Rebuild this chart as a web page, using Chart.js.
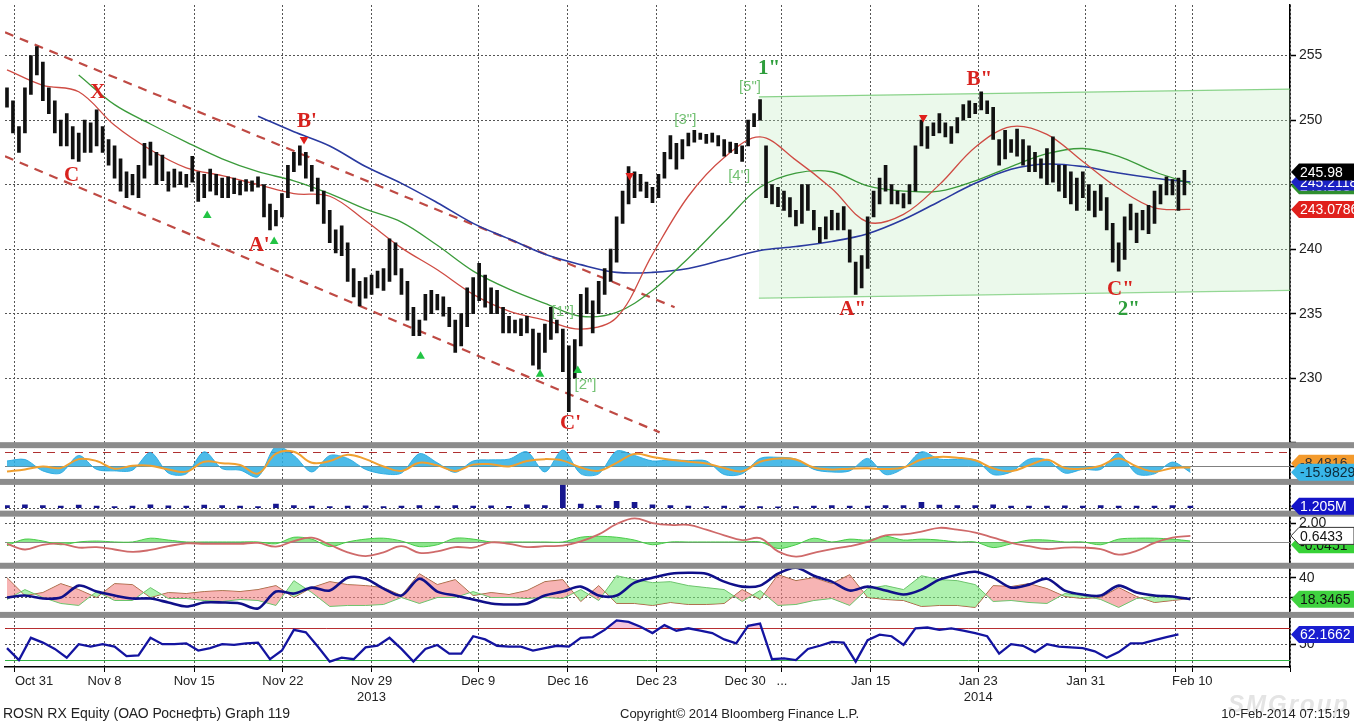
<!DOCTYPE html>
<html>
<head>
<meta charset="utf-8">
<script src="https://cdn.jsdelivr.net/npm/chart.js@4/dist/chart.umd.min.js"></script>
<style>
  html, body { margin: 0; padding: 0; background: #fff; }
  #wrap { position: relative; width: 1354px; height: 723px; overflow: hidden; background: #fff; }
  #chart { position: absolute; left: 0; top: 0; }
  .foot { position: absolute; top: 706px; font: 13px 'Liberation Sans', sans-serif; color: #222; white-space: nowrap; }
  .mark { position: absolute; left: 1228px; top: 690px; font: italic bold 24px 'Liberation Sans', sans-serif; color: #e4e4e4; letter-spacing: 2px; }
</style>
</head>
<body>
<div id="wrap">
  <canvas id="chart" width="1354" height="723"></canvas>
  <div class="mark">SMGroup</div>
  <div class="foot" style="left:3px; font-size:14px; top:705px">ROSN RX Equity (ОАО Роснефть) Graph 119</div>
  <div class="foot" style="left:620px">Copyright© 2014 Bloomberg Finance L.P.</div>
  <div class="foot" style="right:4px">10-Feb-2014 07:15:19</div>
</div>
<script>
// x axis: one unit = one price bar
const X_MIN = -0.333, X_MAX = 214.667;
const tickPos = [1.33, 16.33, 31.33, 46.17, 61, 78.83, 93.83, 108.67, 123.5, 129.67, 144.5, 162.5, 180.5, 195.5, 198.33, X_MAX];
const tickLabels = ['Oct 31', 'Nov 8', 'Nov 15', 'Nov 22', ['Nov 29', '2013'], 'Dec 9', 'Dec 16', 'Dec 23', 'Dec 30', '...', 'Jan 15', ['Jan 23', '2014'], 'Jan 31', '', 'Feb 10', ''];
const priceTicks = [225, 227.5, 230, 232.5, 235, 237.5, 240, 242.5, 245, 247.5, 250, 252.5, 255, 257.5];

const priceLow = [
  251.0,249,247.5,249,252,253.5,251.5,250.5,249,248,
  248,247,246.8,247.5,247.5,248,247.5,246.5,245.5,244.5,
  244,244.2,244,245.5,246.5,245,245.3,244.5,244.8,245,
  244.8,245.2,243.7,244,244.5,244.2,244,244,244.3,244.2,
  244.5,244.5,244.8,242.5,241.5,241.8,242.5,244,246,246.5,
  245.5,244.5,243.5,242,240.5,239.7,239.5,237.5,236.3,235.6,
  236.2,236.5,237,236.8,237.5,238,236.5,234.5,233.3,233.3,
  234.5,235,235.3,234.8,234,232,232.5,234,235,236,
  235.5,235,235,233.5,233.5,233.5,233.3,233.5,231,230.7,
  232,233,233.5,230.5,227.4,230,232.5,235,233.5,235,
  236.5,237.5,239,242,243.5,244,244.5,244,243.6,244,
  245.5,247,246.2,247,248,248.3,248.5,248.2,248.3,248,
  247.2,247.5,247.4,246.8,248,249.5,250,244,243.5,243.3,
  243,242.5,241.8,242,243,241.5,240.5,240.8,241.5,241.5,
  241.5,239,236.5,237,238.5,242.5,243.5,244.5,243.5,243.5,
  243.2,243.5,244.5,248,247.8,248.8,249,248.7,248.2,249,
  250,250.2,250.5,250.8,250.5,248.5,246.5,247,247.5,247.2,
  246.5,246,246,245.5,245,245.2,244.5,244,243.5,243,
  244,243,242.5,243,241.5,239,238.3,239.2,241.5,240.5,
  241.5,241.2,242,243.5,244.2,244.2,243,244.2
];
const priceHigh = [
  252.5,251.5,249.5,252.5,255,255.7,254.5,252.5,251.5,250,
  250.5,249.5,249,250,249.8,250.8,249.5,248.5,248,247,
  246,245.8,246.5,248.2,248.3,247.5,247.3,246,246.2,246,
  245.8,247.2,246,245.8,246.2,245.8,245.5,245.6,245.5,245.3,
  245.4,245.3,245.6,245,243.5,243,244.3,246.5,247.5,248,
  247.5,246.5,245.5,244.5,243,241.5,241.8,240.5,238.5,237.5,
  237.8,238,238.3,238.5,240.8,240.5,238.5,237.5,235.5,234.5,
  236.5,236.8,236.5,236.3,235.5,234.5,235,237,237.8,238.9,
  238,237,236.8,235.5,234.8,234.5,234.6,234.8,233.8,233.5,
  234.2,235.5,234.5,233.8,232.5,233,236.5,237,236,237.5,
  238.5,240,242.5,244.5,246.4,246,245.8,245.2,244.8,245.8,
  247.5,248.8,248.2,248.5,249,249.2,249,248.9,249,248.8,
  248.5,248.3,248.2,248,250,250.5,251.6,248,245,244.8,
  244.5,244,243,245,245,243,241.7,242.5,243,242.8,
  243.3,241.5,239,239.5,242.5,244.5,245.5,246.5,245,244.5,
  244.3,245,248,250,249.5,249.8,250.5,249.8,249.5,250.2,
  251.2,251.5,251.3,252.2,251.5,251,248.5,249.2,248.5,249.3,
  248.5,248,247.5,247,247.8,248.7,246.5,246.5,246,245.5,
  246,245,244.5,245,244,242,240.5,242.5,243.5,242.8,
  243,243.4,244.5,245,245.6,245.4,245.5,246.1
];

// moving averages, one value every 6 bars
const MA_STEP = 6;
const maRed = [253.9,252.7,252.2,249.6,247.7,246.3,245.7,245.0,244.3,244.1,242.2,240.1,238.4,236.5,235.2,234.5,233.8,234.7,239.6,244.1,247.1,248.7,246.9,244.7,242.1,242.7,245.0,247.9,249.5,248.9,246.8,244.7,243.2,243.08];
const maGreen = [null,null,253.5,251.2,249.7,248.3,247.0,246.0,245.3,244.3,243.1,242.1,240.3,238.3,236.9,235.8,234.8,235.1,236.8,239.3,242.1,244.8,245.9,246.0,244.9,244.5,244.5,245.3,246.4,247.4,247.8,247.2,246.0,245.1];
const maBlue = [null,null,null,null,null,null,null,250.3,249.1,248.0,246.4,245.1,243.6,242.0,240.8,239.6,238.8,238.2,238.2,238.5,239.2,239.9,240.2,240.6,241.2,242.3,243.7,245.1,246.2,246.6,246.4,245.9,245.5,245.2];

// trend channels
const chanTopIdx = [-0.333, 111.7], chanTop = [256.8, 235.5];
const chanLowIdx = [-0.333, 109.2], chanLow = [247.2, 225.8];
const boxIdx = [125.8, X_MAX], boxTop = [251.8, 252.4], boxBottom = [236.2, 236.8];

// signal triangles
const upIdx = [33.5, 44.7, 69.2, 89.2, 95.5], upVal = [242.6, 240.6, 231.7, 230.3, 230.6];
const downIdx = [49.7, 104.2, 153.3], downVal = [248.5, 245.7, 250.2];

// wave labels: text, bar index, price, kind
const waveLabels = [
  ['X', 15.2, 252.15, 'r'], ['C', 10.8, 245.7, 'r'], ["B'", 50.2, 249.85, 'r'], ["A'", 42.2, 240.3, 'r'],
  ["C'", 94.3, 226.5, 'r'], ['A"', 141.5, 235.3, 'r'], ['B"', 162.7, 253.15, 'r'], ['C"', 186.3, 236.9, 'r'],
  ['1"', 127.5, 254.0, 'g'], ['2"', 187.7, 235.3, 'g'],
  ['[5"]', 124.3, 252.6, 's'], ['[3"]', 113.5, 250.0, 's'], ['[4"]', 122.5, 245.7, 's'],
  ['[1"]', 93.0, 235.15, 's'], ['[2"]', 96.8, 229.5, 's']
];

// indicator panels, one value every 3 bars
const IND_STEP = 3;
const oscHist = [15,19,-12,-18,30,-8,-12,-10,38,-18, -20,40,-6,-10,-28,55,30,-15,30,22, -8,-20,-18,35,10,-16,15,18,20,40, -15,45,-20,-20,42,30,15,18,16,15, -22,-20,22,25,20,-8,-15,-12,22,-22, -5,40,20,20,18,-22,-15,20,18,-18, -8,-8,35,-20,-20,12,-16];
const oscLine = [-14,-8,0,-4,20,15,-6,2,2,-8, -14,13,9,4,-19,35,40,10,15,32, 20,0,-12,10,3,-12,5,6,0,15, 20,16,-3,-12,10,34,26,18,13,8, -4,-13,13,22,19,-3,-8,-6,-5,-7, -3,19,26,24,17,-5,-13,3,18,-4, -6,2,22,0,-14,-4,-3];
const volume = [1.5,2,1.5,1.2,1.8,1.3,1,1.2,2,1.4, 1.2,1.8,1.5,1.2,1,2.5,1.5,1.2,1,1.2, 1.4,1,1.2,1.5,1.3,1.5,1.2,1.4,1.1,2, 1.5,14,2.5,1.5,4,3.5,2,1.5,1.2,1, 1.2,1.3,1,0.8,1,1.2,1.5,1.2,1.3,1.6, 1.5,3.5,1.8,1.5,1.5,2,1.2,1.3,1.2,1.4, 1.2,1.5,1.2,1.3,1.2,1.5,1.205];
const macdLine = [-0.2,-0.8,-0.3,-0.2,-0.6,-0.55,-0.8,-1.05,-0.85,-0.45, -0.15,-0.2,-0.2,-0.2,-0.1,-0.5,0.1,0.45,-0.3,-1.1, -1.5,-1.1,-0.45,-1.15,-1.0,-0.55,-0.6,-0.05,-0.2,-0.55, -0.45,-0.4,0.05,0.8,1.9,2.5,2.0,1.8,1.8,1.3, 0.7,0.2,0.4,-1.0,-1.55,-1.15,-0.75,-0.45,0.0,0.7, 0.8,1.1,1.5,1.3,1.0,0.45,-0.1,-0.45,-0.75,-0.6, -0.6,-0.75,-1.35,-0.95,-0.1,0.45,0.64];
const macdHist = [-0.4,0.3,0.1,-0.3,0,0.1,0,0,0.4,0.2, 0,0,0,0,0,-0.2,0.5,0.3,-0.5,0, 0.3,0.4,0.1,-0.5,-0.3,0.4,0.3,0,0,0, 0,0,0.5,0.6,0.5,0.2,-0.3,0,0,0, 0,0,0,-0.7,-0.3,0.4,0,0.3,0.2,0.6, 0.2,0.3,0.2,0,0,-0.6,-0.2,0.2,0.2,0, 0,-0.3,0.3,0.4,0.4,0.3,0.1];
const adx = [20,22,19,20,32,26,22,19,19,15, 11,15,15,14,9,26,24,30,27,40, 39,29,22,39,26,22,18,14,13,14, 22,26,31,22,22,35,40,44,45,44, 36,31,32,44,50,42,36,27,31,27, 23,28,38,43,46,40,30,33,39,27, 23,22,32,25,22,21,18.3];
const diMinus = [40,22,25,34,28,20,34,33,20,25, 24,26,27,26,28,32,20,30,36,33, 32,30,22,44,33,38,22,25,23,27, 36,38,16,32,14,14,12,15,13,13, 14,28,18,43,37,40,34,43,20,18, 17,11,12,12,10,32,31,34,29,21, 19,20,30,21,15,17,19];
const diPlus = [18,28,20,14,12,26,17,17,30,19, 19,17,16,18,17,12,37,25,11,12, 12,13,20,14,20,20,26,20,20,19, 20,19,28,17,42,38,35,36,32,30, 28,16,27,12,13,17,19,12,29,32, 28,42,38,37,33,16,17,15,14,24, 22,18,10,19,21,20,18];

// RSI, one value every 2 bars
const RSI_STEP = 2;
const rsi = [45,30,58,52,44,33,50,47,50,47, 35,36,58,50,50,51,42,45,50,49, 51,52,31,42,68,65,47,28,33,31, 46,48,58,44,28,44,49,38,38,60, 56,48,47,47,42,45,48,47,58,59, 68,80,78,72,64,74,67,70,67,64, 56,51,73,76,31,32,30,44,48,53, 52,28,55,62,60,49,70,71,68,70, 67,64,60,38,50,48,40,50,47,46, 45,41,33,40,51,51,55,59,62.2];

// last-value tags on the right axis: scale, value, text
const lastTags = [
  ['yP', 244.92, '#2f8f2f', '#fff', '245.1034'],
  ['yP', 245.2118, '#1c22c4', '#fff', '245.2118'],
  ['yP', 245.98, '#000', '#fff', '245.98'],
  ['yP', 243.0786, '#e0201c', '#fff', '243.0786'],
  ['yO', 8.4816, '#f39a2c', '#333', '-8.4816'],
  ['yO', -15.9829, '#38b6e8', '#0c2a3a', '-15.9829'],
  ['yV', 1.205, '#1414c8', '#fff', '1.205M'],
  ['yM', -0.3, '#37d237', '#111', '-0.0451'],
  ['yM', 0.6433, '#fff', '#111', '0.6433', '#333'],
  ['yA', 18.3465, '#3fd23f', '#111', '18.3465'],
  ['yR', 62.1662, '#1a1ed0', '#fff', '62.1662']
];

const pts = (arr, step) => arr.map((v, i) => ({ x: i * step, y: v }));
const pairs = (xs, ys) => xs.map((x, i) => ({ x: x, y: ys[i] }));
const FONT = "'Liberation Sans', sans-serif";
Chart.defaults.font.family = FONT;
Chart.defaults.font.size = 13;
Chart.defaults.color = '#222';

const panelIds = ['yP', 'yO', 'yV', 'yM', 'yA', 'yR'];

const panelClip = {
  id: 'panelClip',
  beforeDatasetDraw(chart, args) {
    const s = chart.scales[args.meta.yAxisID];
    const ctx = chart.ctx;
    ctx.save();
    ctx.beginPath();
    ctx.rect(chart.chartArea.left, s.top, chart.chartArea.width, s.bottom - s.top);
    ctx.clip();
  },
  afterDatasetDraw(chart) { chart.ctx.restore(); }
};

const refLines = [
  ['yO', 40, '#b03030', [8, 6], 1],
  ['yO', 0, '#808080', [], 1],
  ['yM', 0, '#8a8a8a', [], 1],
  ['yR', 70, '#b02020', [], 1],
  ['yR', 30, '#30b040', [], 1]
];
const refPlugin = {
  id: 'refLines',
  beforeDatasetsDraw(chart) {
    const ctx = chart.ctx, a = chart.chartArea;
    ctx.save();
    refLines.forEach(([id, v, col, dash, w]) => {
      const y = Math.round(chart.scales[id].getPixelForValue(v)) + 0.5;
      ctx.strokeStyle = col; ctx.lineWidth = w; ctx.setLineDash(dash);
      ctx.beginPath(); ctx.moveTo(a.left, y); ctx.lineTo(a.right, y); ctx.stroke();
    });
    ctx.restore();
  }
};

const annotate = {
  id: 'annotate',
  afterDatasetsDraw(chart) {
    const ctx = chart.ctx, xs = chart.scales.x, ys = chart.scales.yP;
    ctx.save();
    ctx.textAlign = 'center'; ctx.textBaseline = 'middle';
    waveLabels.forEach(([t, i, v, k]) => {
      if (k === 's') { ctx.font = "15px 'Liberation Sans', sans-serif"; ctx.fillStyle = '#74c274'; }
      else { ctx.font = "bold 21px 'Liberation Serif', serif"; ctx.fillStyle = k === 'r' ? '#d8221e' : '#2e9e3c'; }
      ctx.fillText(t, xs.getPixelForValue(i), ys.getPixelForValue(v));
    });
    // separators between panels
    ctx.fillStyle = '#8c8c8c';
    panelIds.slice(0, -1).forEach(id => {
      const b = chart.scales[id].bottom;
      ctx.fillRect(0, b - 3, chart.width, 6);
    });
    ctx.restore();
  }
};

const tagPlugin = {
  id: 'tags',
  afterDraw(chart) {
    const ctx = chart.ctx, x0 = chart.chartArea.right + 1, w = chart.width;
    ctx.save();
    ctx.font = '14px ' + FONT; ctx.textBaseline = 'middle'; ctx.textAlign = 'left';
    lastTags.forEach(([id, v, bg, fg, txt, edge]) => {
      const y = chart.scales[id].getPixelForValue(v);
      ctx.beginPath();
      ctx.moveTo(x0, y); ctx.lineTo(x0 + 8, y - 8.5); ctx.lineTo(w, y - 8.5);
      ctx.lineTo(w, y + 8.5); ctx.lineTo(x0 + 8, y + 8.5); ctx.closePath();
      ctx.fillStyle = bg; ctx.fill();
      if (edge) { ctx.strokeStyle = edge; ctx.lineWidth = 1; ctx.stroke(); }
      ctx.fillStyle = fg; ctx.fillText(txt, x0 + 9, y + 1);
    });
    ctx.restore();
  }
};

const fixW = s => { s.width = 64; s.paddingTop = 0; s.paddingBottom = 0; };
const dashGrid = { color: '#555', lineWidth: 1, tickLength: 6, tickColor: '#000', tickWidth: 1.5 };
function subAxis(weight, min, max, ticks, labels, showGrid) {
  return {
    type: 'linear', position: 'right', stack: 'p', stackWeight: weight, min: min, max: max,
    afterBuildTicks: s => { s.ticks = ticks.map(v => ({ value: v })); },
    afterFit: fixW,
    ticks: { padding: 3, color: '#222', font: { size: 14 }, callback: (v, i) => labels[i] },
    grid: Object.assign({}, dashGrid, { color: showGrid ? '#555' : 'transparent' }),
    border: { color: '#000', width: 1.5, dash: [2, 2] }
  };
}

const datasets = [
  { type: 'line', data: pairs(upIdx, upVal), yAxisID: 'yP', showLine: false, pointStyle: 'triangle', pointRadius: 5, pointBackgroundColor: '#22c444', pointBorderWidth: 0 },
  { type: 'line', data: pairs(downIdx, downVal), yAxisID: 'yP', showLine: false, pointStyle: 'triangle', rotation: 180, pointRadius: 5, pointBackgroundColor: '#e0201c', pointBorderWidth: 0 },
  { type: 'bar', data: priceLow.map((l, i) => ({ x: i, y: [l, priceHigh[i]] })), yAxisID: 'yP', backgroundColor: '#111', grouped: false, barPercentage: 1, categoryPercentage: 1, maxBarThickness: 3 },
  { type: 'line', data: pts(maRed, MA_STEP), yAxisID: 'yP', borderColor: '#cf4c44', borderWidth: 1.3, pointRadius: 0, tension: 0.35 },
  { type: 'line', data: pts(maGreen, MA_STEP), yAxisID: 'yP', borderColor: '#3b9b3b', borderWidth: 1.3, pointRadius: 0, tension: 0.35 },
  { type: 'line', data: pts(maBlue, MA_STEP), yAxisID: 'yP', borderColor: '#2a3aa0', borderWidth: 1.6, pointRadius: 0, tension: 0.35 },
  { type: 'line', data: pairs(chanTopIdx, chanTop), yAxisID: 'yP', borderColor: '#bf4a44', borderWidth: 2.2, borderDash: [9, 7], pointRadius: 0 },
  { type: 'line', data: pairs(chanLowIdx, chanLow), yAxisID: 'yP', borderColor: '#bf4a44', borderWidth: 2.2, borderDash: [9, 7], pointRadius: 0 },
  { type: 'line', data: pairs(boxIdx, boxTop), yAxisID: 'yP', borderColor: 'rgba(110,200,110,0.8)', borderWidth: 1.2, pointRadius: 0, fill: '+1', backgroundColor: 'rgba(190,236,190,0.3)' },
  { type: 'line', data: pairs(boxIdx, boxBottom), yAxisID: 'yP', borderColor: 'rgba(110,200,110,0.8)', borderWidth: 1.2, pointRadius: 0 },

  { type: 'line', data: pts(oscLine, IND_STEP), yAxisID: 'yO', borderColor: '#f0a030', borderWidth: 2, pointRadius: 0, tension: 0.4 },
  { type: 'line', data: pts(oscHist, IND_STEP), yAxisID: 'yO', borderColor: 'rgba(40,170,225,0.9)', borderWidth: 1, pointRadius: 0, tension: 0.3, fill: 'origin', backgroundColor: 'rgba(45,175,228,0.85)' },

  { type: 'bar', data: pts(volume, IND_STEP), yAxisID: 'yV', backgroundColor: '#17178f', grouped: false, barPercentage: 1, categoryPercentage: 1, maxBarThickness: 5 },

  { type: 'line', data: pts(macdLine, IND_STEP), yAxisID: 'yM', borderColor: '#cf6a6a', borderWidth: 1.8, pointRadius: 0, tension: 0.4 },
  { type: 'line', data: pts(macdHist, IND_STEP), yAxisID: 'yM', borderColor: 'rgba(60,200,60,0.9)', borderWidth: 1, pointRadius: 0, tension: 0.3, fill: 'origin', backgroundColor: 'rgba(90,220,90,0.7)' },

  { type: 'line', data: pts(adx, IND_STEP), yAxisID: 'yA', borderColor: '#10108a', borderWidth: 2.6, pointRadius: 0, tension: 0.3 },
  { type: 'line', data: pts(diPlus, IND_STEP), yAxisID: 'yA', borderColor: '#6cc46c', borderWidth: 1, pointRadius: 0, fill: { target: '+1', above: 'rgba(120,232,120,0.6)', below: 'rgba(242,130,130,0.6)' } },
  { type: 'line', data: pts(diMinus, IND_STEP), yAxisID: 'yA', borderColor: '#a8583a', borderWidth: 1, pointRadius: 0 },

  { type: 'line', data: pts(rsi, RSI_STEP), yAxisID: 'yR', borderColor: '#1414a0', borderWidth: 2.3, pointRadius: 0, fill: { target: { value: 70 }, above: 'rgba(240,160,200,0.6)', below: 'rgba(0,0,0,0)' } }
];

new Chart(document.getElementById('chart'), {
  type: 'bar',
  data: { datasets: datasets },
  options: {
    responsive: false, animation: false, events: [],
    layout: { padding: 0 },
    plugins: { legend: { display: false }, tooltip: { enabled: false } },
    scales: {
      x: {
        type: 'linear', position: 'bottom', min: X_MIN, max: X_MAX, offset: false,
        afterBuildTicks: s => { s.ticks = tickPos.map(v => ({ value: v })); },
        afterFit: s => { s.height = 56; s.paddingLeft = 0; s.paddingRight = 0; },
        ticks: { autoSkip: false, maxRotation: 0, align: 'inner', padding: 2, color: '#222', font: { size: 13 }, callback: (v, i) => tickLabels[i] },
        grid: { offset: false, color: '#555', lineWidth: 1, tickLength: 5, tickColor: '#000', tickBorderDash: [] },
        border: { color: '#000', width: 1.5, dash: [2, 2] }
      },
      yP: {
        type: 'linear', position: 'right', stack: 'p', stackWeight: 443.5, min: 224.808, max: 258.923,
        afterBuildTicks: s => { s.ticks = priceTicks.map(v => ({ value: v })); },
        afterFit: fixW,
        ticks: { padding: 3, color: '#222', font: { size: 14 }, callback: v => (v % 5 === 0 && v >= 230 && v <= 255) ? String(v) : '' },
        grid: Object.assign({}, dashGrid, { color: c => (c.tick && c.tick.value % 5 === 0 && c.tick.value >= 230) ? '#555' : 'transparent' }),
        border: { color: '#000', width: 1.5, dash: [2, 2] }
      },
      yO: subAxis(37, -42, 58, [0], [''], false),
      yV: subAxis(32, -3.24, 15.59, [0, 10], ['', '10M'], true),
      yM: subAxis(52.5, -2.526, 3.0, [2], ['2.00'], true),
      yA: subAxis(49.5, 2.5, 52, [20, 40], ['20', '40'], true),
      yR: subAxis(52.5, 21.25, 86.875, [50], ['50'], true)
    }
  },
  plugins: [panelClip, refPlugin, annotate, tagPlugin]
});
</script>
</body>
</html>
